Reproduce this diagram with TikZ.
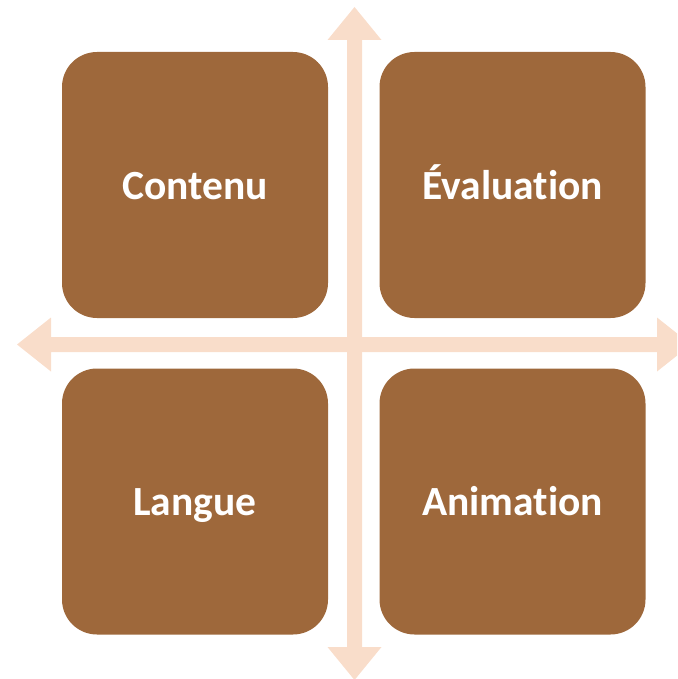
\documentclass[tikz,border=0pt]{standalone}
\usepackage{fontspec}
\setmainfont[RawFeature={-liga;-clig;-dlig;-calt}]{Carlito}
\definecolor{boxbrown}{RGB}{158,104,59}
\definecolor{arrowpeach}{RGB}{249,221,202}
\tikzset{
  quad/.style={draw=none, fill=boxbrown, rounded corners=35pt, minimum width=266pt, minimum height=266pt, inner sep=0pt,
    text height=28pt, text depth=0pt,
    text=white, font=\bfseries\fontsize{41.5}{41.5}\selectfont},
  axis/.style={fill=arrowpeach, draw=none}
}
\begin{document}
\begin{tikzpicture}[x=1pt,y=-1pt]
\useasboundingbox (0,0) rectangle (677,679);
\clip (0,0) rectangle (677,679);
% horizontal double arrow
\fill[axis] (17,344.5) -- (51,317.5) -- (51,337) -- (657,337) -- (657,317.5) -- (691,344.5)
  -- (657,371.5) -- (657,352) -- (51,352) -- (51,371.5) -- cycle;
% vertical double arrow
\fill[axis] (354.5,7) -- (381.5,40) -- (362,40) -- (362,647) -- (381.5,647) -- (354.5,680)
  -- (327.5,647) -- (347,647) -- (347,40) -- (327.5,40) -- cycle;
\node[quad] (contenu) at (195,185) {Contenu};
\node[quad] (evaluation) at (512.5,185) {Évaluation};
\node[quad] (langue) at (195,501.5) {Langue};
\node[quad] (animation) at (512.5,501.5) {Animation};
\end{tikzpicture}
\end{document}
